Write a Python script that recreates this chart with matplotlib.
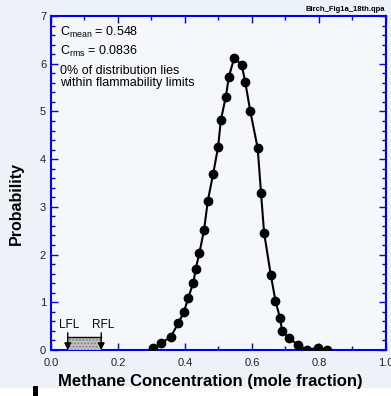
import matplotlib
matplotlib.use('Agg')
import matplotlib.pyplot as plt
from matplotlib.patches import Rectangle
from matplotlib.ticker import MultipleLocator

plt.rcParams['font.family'] = ['Liberation Sans', 'DejaVu Sans']

# concentration (mole fraction) and probability
conc = [0.305, 0.328, 0.357, 0.380, 0.397, 0.410, 0.425, 0.432, 0.443, 0.457,
        0.468, 0.484, 0.499, 0.507, 0.522, 0.531, 0.547, 0.569, 0.580, 0.595,
        0.617, 0.627, 0.636, 0.656, 0.670, 0.684, 0.690, 0.711, 0.738, 0.765,
        0.798, 0.825]
prob = [0.04, 0.14, 0.27, 0.56, 0.80, 1.10, 1.41, 1.70, 2.03, 2.52,
        3.12, 3.69, 4.26, 4.82, 5.31, 5.73, 6.12, 5.98, 5.61, 5.00,
        4.23, 3.29, 2.46, 1.58, 1.03, 0.66, 0.40, 0.25, 0.10, 0.00,
        0.05, 0.00]

lfl = 0.05
rfl = 0.15

fig = plt.figure(figsize=(3.91, 3.96), dpi=100, facecolor='#edf1f8')

# white strip and mark at the very bottom of the scan
fig.patches.append(Rectangle((0, 0), 1, 0.021, transform=fig.transFigure,
                             facecolor='white', edgecolor='none', zorder=0))
fig.patches.append(Rectangle((0.084, 0), 0.012, 0.024, transform=fig.transFigure,
                             facecolor='black', edgecolor='none', zorder=0))

ax = fig.add_axes([0.1304, 0.1162, 0.8568, 0.8434])
ax.set_zorder(2)
ax.set_facecolor('#f4f7fc')

ax.plot(conc, prob, color='black', lw=1.5, marker='o', ms=6,
        mfc='black', mec='black', zorder=5)

# flammability range
ax.add_patch(Rectangle((lfl, 0), rfl - lfl, 0.27, facecolor='#c4c4c4',
                       edgecolor='#808080', hatch='.....', lw=0, zorder=3))
ax.plot([lfl, rfl], [0.27, 0.27], color='black', lw=1, zorder=4)
for xv, lab in [(lfl, 'LFL'), (rfl, 'RFL')]:
    ax.annotate('', xy=(xv, 0.0), xytext=(xv, 0.36),
                arrowprops=dict(arrowstyle='-|>', color='black', lw=1,
                                mutation_scale=10, shrinkA=0, shrinkB=0),
                zorder=4)
    ax.text(xv + 0.005, 0.40, lab, ha='center', va='bottom', fontsize=8.5)

ax.text(0.027, 6.65, r'C$_{\mathregular{mean}}$ = 0.548', fontsize=9, va='center')
ax.text(0.027, 6.25, r'C$_{\mathregular{rms}}$ = 0.0836', fontsize=9, va='center')
ax.text(0.027, 5.72, '0% of distribution lies\nwithin flammability limits',
        fontsize=9, va='center', linespacing=1.0)

ax.set_xlim(0, 1.0)
ax.set_ylim(0, 7)
ax.xaxis.set_major_locator(MultipleLocator(0.2))
ax.xaxis.set_minor_locator(MultipleLocator(0.1))
ax.yaxis.set_major_locator(MultipleLocator(1))
ax.yaxis.set_minor_locator(MultipleLocator(0.2))
ax.set_xticklabels([f'{v:.1f}' for v in ax.get_xticks()])
ax.tick_params(which='both', direction='in', top=True, right=True,
               color='#0000ee', labelsize=8, labelcolor='#222222')
ax.tick_params(which='major', length=5, width=1)
ax.tick_params(which='minor', length=3, width=1)
ax.tick_params(axis='x', pad=6)
for s in ax.spines.values():
    s.set_color('#0000ee')
    s.set_linewidth(1.5)

ax.set_xlabel('Methane Concentration (mole fraction)', fontsize=12,
              fontweight='bold')
ax.xaxis.set_label_coords(0.475, -0.072)
ax.set_ylabel('Probability', fontsize=11.5, fontweight='bold')
ax.yaxis.set_label_coords(-0.08, 0.44)

fig.text(0.985, 0.975, 'Birch_Fig1a_18th.qpa', fontsize=5.5, fontweight='bold',
         ha='right', va='center')

fig.savefig('out.png', dpi=100, facecolor=fig.get_facecolor())
